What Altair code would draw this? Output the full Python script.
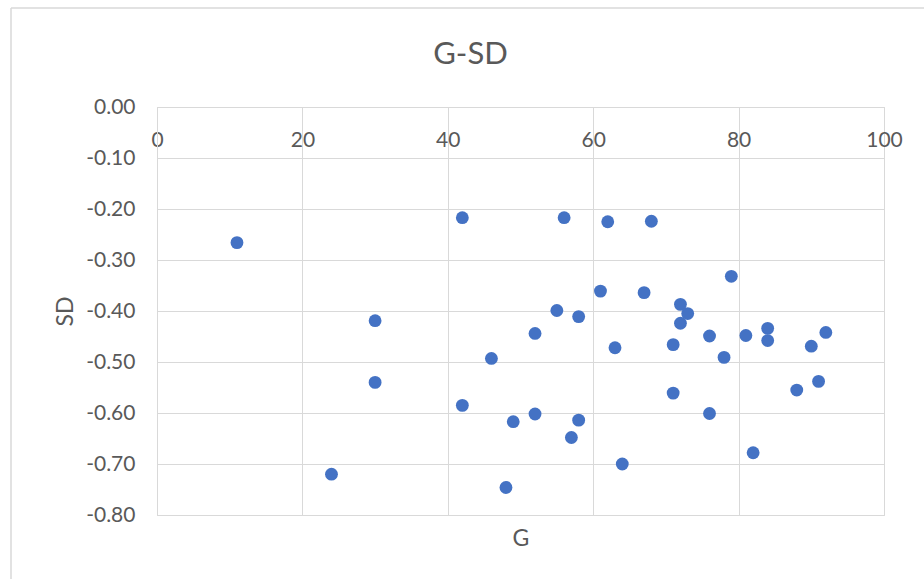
import altair as alt
import pandas as pd

# G scores and the matching SD values, one pair per observation
g_values = [11, 42, 30, 52, 46, 30, 42, 52, 49, 24, 48,
            56, 62, 68, 79, 61, 67, 72, 73, 72, 55, 58, 63, 71,
            76, 78, 81, 84, 84, 90, 92, 88, 91, 71, 76, 58, 57, 64, 82]
sd_values = [-0.266, -0.217, -0.419, -0.444, -0.493, -0.540, -0.585, -0.602, -0.617, -0.720, -0.746,
             -0.217, -0.225, -0.224, -0.332, -0.361, -0.364, -0.387, -0.405, -0.424, -0.399, -0.411,
             -0.472, -0.466, -0.449, -0.491, -0.448, -0.434, -0.458, -0.469, -0.442, -0.555, -0.538,
             -0.561, -0.601, -0.614, -0.648, -0.700, -0.678]

x_ticks = [0, 20, 40, 60, 80, 100]
y_ticks = [0.0, -0.1, -0.2, -0.3, -0.4, -0.5, -0.6, -0.7, -0.8]

df = pd.DataFrame({"G": g_values, "SD": sd_values})

FONT = "Lato"
TEXT = "#595959"
GRID = "#d9d9d9"
W, H = 727, 408

points = alt.Chart(df).mark_circle(size=165, color="#4472C4", opacity=1).encode(
    x=alt.X(
        "G:Q",
        scale=alt.Scale(domain=[0, 100], nice=False),
        axis=alt.Axis(
            orient="bottom", offset=-H, values=x_ticks, ticks=False,
            labelPadding=22, labelFontSize=21, labelColor=TEXT, labelFont=FONT,
            labelFlush=False,
            domain=False, gridColor=GRID, gridWidth=1,
            title="G", titleFont=FONT, titleFontSize=23, titleColor=TEXT,
            titleFontWeight="normal", titleBaseline="alphabetic", titleY=438,
        ),
    ),
    y=alt.Y(
        "SD:Q",
        scale=alt.Scale(domain=[-0.8, 0], nice=False),
        axis=alt.Axis(
            values=y_ticks, ticks=False,
            labelExpr="replace(format(datum.value, '.2f'), '\u2212', '-')",
            labelPadding=22, labelFontSize=21, labelColor=TEXT, labelFont=FONT,
            domainColor=GRID, domainWidth=1, gridColor=GRID, gridWidth=1,
            title="SD", titleFont=FONT, titleFontSize=23, titleColor=TEXT,
            titleFontWeight="normal", titleBaseline="alphabetic",
            titleX=-85, titleY=H / 2,
        ),
    ),
)

# outer frame of the chart area (top and left edges)
frame_data = alt.Data(values=[{}])
frame_top = alt.Chart(frame_data).mark_rule(color=GRID, strokeWidth=1.5).encode(
    x=alt.value(-146), x2=alt.value(W + 40), y=alt.value(-99)
)
frame_left = alt.Chart(frame_data).mark_rule(color=GRID, strokeWidth=1.5).encode(
    x=alt.value(-146), y=alt.value(-99), y2=alt.value(H + 64)
)

chart = alt.layer(points, frame_top, frame_left).properties(
    width=W,
    height=H,
    autosize=alt.AutoSizeParams(type="none"),
    padding={"left": 157, "top": 107, "right": 40, "bottom": 64},
    background="white",
    title=alt.TitleParams(
        "G-SD", font=FONT, fontSize=31, color=TEXT, fontWeight="normal",
        anchor="middle", frame="group", dx=-50, offset=-88, baseline="alphabetic",
    ),
).configure_view(stroke=GRID, strokeWidth=1)

chart.save("out.html", embed_options={"renderer": "svg", "actions": False})
